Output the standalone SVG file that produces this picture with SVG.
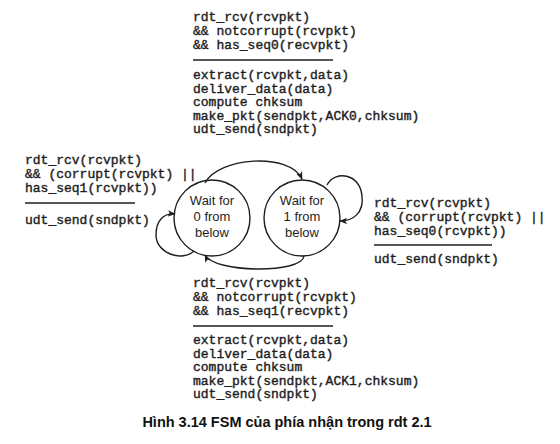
<svg xmlns="http://www.w3.org/2000/svg" width="560" height="444" viewBox="0 0 560 444">
  <style>
    .code { font-family: "Liberation Mono", "Courier New", monospace; font-size: 13px; fill: #1e1e1e; stroke: #1e1e1e; stroke-width: 0.4; white-space: pre; }
    .state-shape { fill: none; stroke: #1e1e1e; stroke-width: 1.4; }
    .state-text { font-family: "Liberation Sans", Arial, sans-serif; font-size: 13px; fill: #1e1e1e; text-anchor: middle; }
    .edge { fill: none; stroke: #1e1e1e; stroke-width: 1.4; }
    .rule { stroke: #1e1e1e; stroke-width: 1.3; }
    .caption { font-family: "Liberation Sans", Arial, sans-serif; font-size: 14.5px; font-weight: bold; fill: #111; text-anchor: middle; }
  </style>
  <defs>
    <marker id="arrow" viewBox="0 0 10 8" refX="9" refY="4" markerWidth="8" markerHeight="6.4" markerUnits="userSpaceOnUse" orient="auto">
      <path d="M0,0 L10,4 L0,8 L2.5,4 z" fill="#1e1e1e"/>
    </marker>
  </defs>

  <rect width="560" height="444" fill="#ffffff"/>

  <!-- states -->
  <g id="wait0">
    <circle class="state-shape" cx="212" cy="218" r="38"/>
    <text class="state-text" x="212" y="205">Wait for</text>
    <text class="state-text" x="212" y="221">0 from</text>
    <text class="state-text" x="212" y="237">below</text>
  </g>
  <g id="wait1">
    <circle class="state-shape" cx="302" cy="218" r="38"/>
    <text class="state-text" x="302" y="205">Wait for</text>
    <text class="state-text" x="302" y="221">1 from</text>
    <text class="state-text" x="302" y="237">below</text>
  </g>

  <!-- transitions -->
  <g id="connectors">
    <path class="edge" d="M205,183 C218,157 290,152 302,179" marker-end="url(#arrow)"/>
    <path class="edge" d="M304,256 C302,274 214,273 205,255" marker-end="url(#arrow)"/>
    <path class="edge" d="M194,251 C183,262 156,254 156,235 C156,220 164,213 175,214" marker-end="url(#arrow)"/>
    <path class="edge" d="M327,185 C335,170 360,173 362,196 C364,213 353,221 340,221" marker-end="url(#arrow)"/>
  </g>

  <!-- wait0 -> wait1 -->
  <g id="label-0to1">
    <text class="code" x="193" y="21">rdt_rcv(rcvpkt)</text>
    <text class="code" x="193" y="35">&amp;&amp; notcorrupt(rcvpkt)</text>
    <text class="code" x="193" y="49">&amp;&amp; has_seq0(recvpkt)</text>
    <line class="rule" x1="193" y1="60" x2="333" y2="60"/>
    <text class="code" x="193" y="79">extract(rcvpkt,data)</text>
    <text class="code" x="193" y="92.5">deliver_data(data)</text>
    <text class="code" x="193" y="106">compute chksum</text>
    <text class="code" x="193" y="119.5">make_pkt(sendpkt,ACK0,chksum)</text>
    <text class="code" x="193" y="133">udt_send(sndpkt)</text>
  </g>

  <!-- wait0 self loop -->
  <g id="label-loop0">
    <text class="code" x="25" y="164">rdt_rcv(rcvpkt)</text>
    <text class="code" x="25" y="178">&amp;&amp; (corrupt(rcvpkt) ||</text>
    <text class="code" x="25" y="192">has_seq1(rcvpkt))</text>
    <line class="rule" x1="25" y1="203" x2="135" y2="203"/>
    <text class="code" x="25" y="224">udt_send(sndpkt)</text>
  </g>

  <!-- wait1 self loop -->
  <g id="label-loop1">
    <text class="code" x="374" y="207">rdt_rcv(rcvpkt)</text>
    <text class="code" x="374" y="221">&amp;&amp; (corrupt(rcvpkt) ||</text>
    <text class="code" x="374" y="235">has_seq0(rcvpkt))</text>
    <line class="rule" x1="374" y1="245" x2="492" y2="245"/>
    <text class="code" x="374" y="263">udt_send(sndpkt)</text>
  </g>

  <!-- wait1 -> wait0 -->
  <g id="label-1to0">
    <text class="code" x="193" y="287">rdt_rcv(rcvpkt)</text>
    <text class="code" x="193" y="301">&amp;&amp; notcorrupt(rcvpkt)</text>
    <text class="code" x="193" y="315">&amp;&amp; has_seq1(recvpkt)</text>
    <line class="rule" x1="193" y1="326" x2="333" y2="326"/>
    <text class="code" x="193" y="344">extract(rcvpkt,data)</text>
    <text class="code" x="193" y="357.5">deliver_data(data)</text>
    <text class="code" x="193" y="371">compute chksum</text>
    <text class="code" x="193" y="384.5">make_pkt(sendpkt,ACK1,chksum)</text>
    <text class="code" x="193" y="398">udt_send(sndpkt)</text>
  </g>

  <text class="caption" x="287" y="427">Hình 3.14 FSM của phía nhận trong rdt 2.1</text>
</svg>
